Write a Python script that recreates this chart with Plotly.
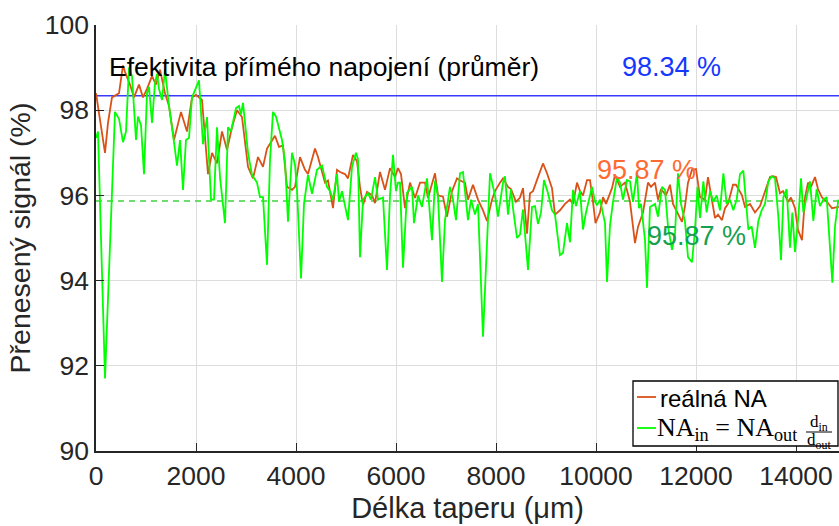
import plotly.graph_objects as go

# Délka taperu (µm) a přenesený signál (%) – reálná NA
real_x = [0, 180, 240, 320, 460, 540, 580, 680, 760, 860, 940, 1020, 1120, 1200, 1280, 1380,
          1460, 1560, 1700, 1820, 1920, 2000, 2120, 2240, 2320, 2420, 2520, 2620, 2720, 2820,
          2920, 3040, 3140, 3240, 3340, 3420, 3580, 3660, 3740, 3820, 3920, 3980, 4080, 4180,
          4240, 4380, 4440, 4580, 4640, 4740, 4820, 4880, 4980, 5040, 5140, 5220, 5280, 5340,
          5420, 5520, 5580, 5680, 5780, 5880, 5980, 6040, 6100, 6180, 6280, 6380, 6480, 6580,
          6640, 6780, 6840, 6940, 7020, 7120, 7220, 7280, 7380, 7440, 7540, 7640, 7740, 7820,
          7920, 7980, 8080, 8140, 8240, 8300, 8400, 8480, 8540, 8620, 8680, 8740, 8840, 8940,
          9020, 9120, 9180, 9280, 9380, 9480, 9540, 9620, 9680, 9740, 9820, 9880, 9940, 9990,
          10080, 10140, 10200, 10320, 10380, 10480, 10580, 10680, 10780, 10840, 10940, 11040,
          11100, 11180, 11240, 11300, 11400, 11480, 11540, 11620, 11720, 11780, 11840, 11920,
          12000, 12080, 12180, 12240, 12300, 12380, 12440, 12520, 12580, 12640, 12740, 12800,
          12920, 12980, 13080, 13180, 13280, 13380, 13480, 13540, 13600, 13680, 13740, 13840,
          13900, 13980, 14040, 14120, 14180, 14240, 14300, 14380, 14440, 14520, 14620, 14720,
          14860]
real_y = [98.4, 97.0, 97.7, 98.3, 98.4, 99.05, 98.9, 98.6, 98.3, 98.6, 98.3, 98.5, 98.8, 98.6,
          98.95, 98.4, 98.1, 97.3, 97.96, 97.5, 98.3, 98.36, 98.24, 96.5, 97.0, 96.75, 97.5,
          97.07, 97.6, 98.0, 97.84, 96.67, 96.4, 96.9, 96.67, 97.1, 97.4, 97.14, 97.17, 96.2,
          96.13, 96.2, 96.9, 96.6, 96.5, 97.1, 96.9, 96.3, 96.35, 95.7, 96.6, 96.55, 96.5, 96.4,
          96.95, 96.8, 96.2, 95.77, 96.08, 96.0, 95.82, 96.55, 96.13, 96.64, 96.43, 96.64, 96.5,
          95.7, 96.3, 95.94, 96.3, 96.3, 95.94, 96.52, 96.0, 95.97, 95.5, 96.1, 96.4, 96.35,
          96.3, 95.9, 96.25, 95.9, 95.65, 95.4, 95.9, 96.1, 96.3, 96.4, 96.2, 96.15, 95.85,
          95.95, 96.17, 95.1, 96.05, 96.1, 96.43, 96.75, 96.52, 96.17, 95.55, 95.65, 95.8, 95.9,
          95.8, 96.3, 96.1, 96.0, 96.36, 96.36, 95.85, 95.35, 95.6, 95.96, 95.8, 96.17, 96.48,
          96.2, 96.3, 95.85, 94.88, 95.26, 95.6, 96.3, 96.2, 96.3, 95.9, 96.15, 96.0, 96.25,
          95.8, 95.6, 95.38, 95.75, 96.3, 96.6, 96.62, 95.96, 95.9, 96.43, 96.0, 95.47, 95.55,
          95.42, 95.7, 95.8, 96.25, 96.25, 96.0, 95.73, 95.8, 95.6, 95.75, 96.08, 96.43, 96.45,
          96.43, 96.05, 96.1, 95.85, 95.95, 95.7, 95.19, 94.95, 95.95, 96.3, 96.2, 96.43, 96.15,
          95.95, 95.85, 95.7, 95.73]

# NA_in = NA_out * d_in / d_out
calc_x = [0, 40, 180, 380, 460, 540, 600, 660, 720, 800, 840, 900, 960, 1020, 1060, 1120, 1180,
          1220, 1260, 1320, 1380, 1460, 1560, 1620, 1680, 1740, 1800, 1860, 1920, 2060, 2140,
          2220, 2300, 2360, 2420, 2480, 2580, 2640, 2700, 2800, 2860, 2900, 2940, 3040, 3120,
          3220, 3280, 3340, 3420, 3480, 3540, 3600, 3720, 3780, 3840, 3920, 3980, 4020, 4100,
          4160, 4240, 4320, 4420, 4520, 4620, 4680, 4740, 4820, 4860, 4920, 5040, 5120, 5200,
          5240, 5280, 5340, 5440, 5500, 5580, 5640, 5740, 5820, 5880, 5940, 6000, 6040, 6080,
          6140, 6220, 6320, 6360, 6440, 6520, 6620, 6720, 6780, 6840, 6920, 6980, 7080, 7140,
          7200, 7280, 7340, 7440, 7500, 7580, 7640, 7740, 7880, 7980, 8040, 8140, 8180, 8240,
          8300, 8340, 8420, 8480, 8540, 8640, 8720, 8780, 8840, 8900, 8960, 9040, 9120, 9180,
          9280, 9340, 9420, 9480, 9540, 9600, 9680, 9740, 9800, 9920, 9980, 10020, 10080, 10180,
          10220, 10280, 10340, 10420, 10480, 10540, 10620, 10680, 10740, 10820, 10860, 10900,
          10980, 11020, 11080, 11180, 11240, 11320, 11380, 11440, 11520, 11580, 11640, 11700,
          11780, 11840, 11920, 11980, 12030, 12080, 12147, 12213, 12280, 12347, 12413, 12480,
          12547, 12613, 12680, 12747, 12813, 12880, 12947, 13013, 13047, 13113, 13180, 13247,
          13313, 13380, 13447, 13513, 13580, 13647, 13700, 13747, 13813, 13880, 13927, 13980,
          14047, 14100, 14147, 14213, 14280, 14347, 14413, 14480, 14547, 14613, 14680, 14727,
          14780, 14847]
calc_y = [97.35, 97.5, 91.7, 97.96, 97.8, 97.25, 97.5, 99.0, 98.8, 97.3, 97.85, 97.65, 96.5,
          98.4, 98.55, 97.7, 98.64, 98.85, 98.5, 98.24, 98.95, 98.1, 97.25, 96.7, 97.3, 96.13,
          97.3, 97.35, 98.3, 98.7, 97.2, 97.84, 95.9, 95.9, 97.6, 96.43, 95.35, 97.6, 97.5,
          98.05, 98.1, 97.9, 98.17, 97.0, 96.48, 96.3, 95.96, 95.96, 94.37, 96.83, 97.96, 97.85,
          97.3, 96.8, 95.38, 97.0, 96.72, 96.13, 94.05, 95.8, 96.48, 96.04, 96.6, 96.7, 96.2,
          96.1, 95.9, 96.5, 95.85, 96.1, 95.42, 96.67, 97.0, 96.85, 94.55, 95.9, 96.05, 95.9,
          96.43, 95.9, 95.95, 94.25, 96.0, 96.95, 96.1, 96.3, 96.3, 94.3, 96.06, 96.2, 95.35,
          96.0, 95.73, 96.4, 94.95, 96.35, 95.97, 93.97, 95.42, 96.2, 95.9, 95.42, 96.52, 96.55,
          95.42, 95.9, 95.55, 95.8, 92.68, 96.52, 96.0, 95.5, 96.3, 96.45, 95.55, 96.15, 95.7,
          95.0, 95.08, 95.67, 94.25, 95.73, 95.75, 95.33, 95.6, 96.36, 96.05, 95.65, 95.55, 94.6,
          94.65, 95.35, 94.9, 96.13, 95.75, 96.1, 95.2, 95.6, 96.2, 95.85, 95.77, 95.9, 95.35,
          93.97, 95.3, 95.85, 96.43, 96.3, 95.9, 96.36, 96.33, 95.85, 96.52, 95.7, 95.8, 94.95,
          93.83, 95.73, 95.8, 95.5, 96.2, 96.13, 95.27, 94.72, 95.1, 96.52, 95.8, 95.38, 94.55,
          94.43, 95.2, 96.2, 95.47, 96.33, 95.6, 96.1, 95.85, 96.0, 95.65, 96.52, 95.8, 95.9,
          95.65, 95.9, 96.5, 96.58, 95.67, 95.2, 95.27, 94.77, 95.4, 95.65, 95.8, 96.33, 96.45,
          96.4, 95.5, 94.48, 95.96, 96.15, 94.77, 95.6, 94.67, 95.5, 96.4, 95.6, 95.96, 96.33,
          95.4, 96.15, 95.75, 95.9, 95.96, 94.72, 93.95, 95.27, 95.9]

direct_mean = 98.34   # přímé napojení
real_mean = 95.87     # reálná NA
calc_mean = 95.87     # vypočtená NA

x_ticks = [0, 2000, 4000, 6000, 8000, 10000, 12000, 14000]
y_ticks = [90, 92, 94, 96, 98, 100]
x_range = [0, 14860]
y_range = [90, 100]

ORANGE = "#D95319"
GREEN = "#00FF00"
BLUE = "#3A3AFF"
AXIS = "#262626"
FONT = "Liberation Sans, Arial, sans-serif"
SERIF = "Liberation Serif, Times New Roman, serif"

fig = go.Figure()

# vodorovné čáry průměrů
fig.add_trace(go.Scatter(x=x_range, y=[direct_mean] * 2, mode="lines",
                         line=dict(color=BLUE, width=1.6), showlegend=False,
                         hoverinfo="skip"))
fig.add_trace(go.Scatter(x=x_range, y=[calc_mean] * 2, mode="lines",
                         line=dict(color="#3fd23f", width=1.6, dash="6px,5px"),
                         showlegend=False, hoverinfo="skip"))

fig.add_trace(go.Scatter(x=real_x, y=real_y, mode="lines", name="reálná NA",
                         line=dict(color=ORANGE, width=1.8), showlegend=False))
fig.add_trace(go.Scatter(x=calc_x, y=calc_y, mode="lines", name="NA_in = NA_out d_in/d_out",
                         line=dict(color=GREEN, width=1.8), showlegend=False))

annotations = [
    dict(x=220, y=99.01, xref="x", yref="y", text="Efektivita přímého napojení (průměr)",
         showarrow=False, xanchor="left", yanchor="middle",
         font=dict(size=26.5, color="#000000", family=FONT)),
    dict(x=10480, y=99.01, xref="x", yref="y", text=f"{direct_mean:.2f} %",
         showarrow=False, xanchor="left", yanchor="middle",
         font=dict(size=27, color="#1538FF", family=FONT)),
    dict(x=9980, y=96.6, xref="x", yref="y", text=f"{real_mean:.2f} %",
         showarrow=False, xanchor="left", yanchor="middle",
         font=dict(size=27, color="#FF6A33", family=FONT)),
    dict(x=10980, y=95.05, xref="x", yref="y", text=f"{calc_mean:.2f} %",
         showarrow=False, xanchor="left", yanchor="middle",
         font=dict(size=27, color="#17A050", family=FONT)),
]

# legenda
W, H = 743.0, 426.0
def px(xp):
    return (xp - 96) / W
def py(yp):
    return (451 - yp) / H

shapes = [
    dict(type="rect", xref="paper", yref="paper", x0=px(633), x1=px(838), y0=py(446),
         y1=py(381), line=dict(color="#000000", width=1.3), fillcolor="#FFFFFF",
         layer="above"),
    dict(type="line", xref="paper", yref="paper", x0=px(637), x1=px(656), y0=py(397),
         y1=py(397), line=dict(color=ORANGE, width=1.8), layer="above"),
    dict(type="line", xref="paper", yref="paper", x0=px(637), x1=px(656), y0=py(428),
         y1=py(428), line=dict(color=GREEN, width=1.8), layer="above"),
    dict(type="line", xref="paper", yref="paper", x0=px(806), x1=px(832), y0=py(432),
         y1=py(432), line=dict(color="#000000", width=1), layer="above"),
]
annotations += [
    dict(x=px(658), y=py(398), xref="paper", yref="paper", text="reálná NA",
         showarrow=False, xanchor="left", yanchor="middle",
         font=dict(size=24, color="#000000", family=FONT)),
    dict(x=px(655), y=py(429), xref="paper", yref="paper",
         text="NA<sub>in</sub> = NA<sub>out</sub>",
         showarrow=False, xanchor="left", yanchor="middle",
         font=dict(size=26, color="#000000", family=SERIF)),
    dict(x=px(819), y=py(423), xref="paper", yref="paper", text="d<sub>in</sub>",
         showarrow=False, xanchor="center", yanchor="middle",
         font=dict(size=17, color="#000000", family=SERIF)),
    dict(x=px(819), y=py(441), xref="paper", yref="paper", text="d<sub>out</sub>",
         showarrow=False, xanchor="center", yanchor="middle",
         font=dict(size=17, color="#000000", family=SERIF)),
]

fig.update_layout(
    width=839, height=526,
    margin=dict(l=96, r=0, t=25, b=75),
    paper_bgcolor="#FFFFFF", plot_bgcolor="#FFFFFF",
    font=dict(family=FONT, color=AXIS, size=26),
    showlegend=False,
    shapes=shapes,
    annotations=annotations,
    xaxis=dict(range=x_range, tickvals=x_ticks, ticktext=[str(t) for t in x_ticks],
               ticks="inside", ticklen=8,
               tickwidth=1.3, tickcolor=AXIS, showline=True, linecolor=AXIS,
               linewidth=1.5, showgrid=True, gridcolor="#DCDCDC", gridwidth=1,
               zeroline=False, tickfont=dict(size=26.5, color=AXIS),
               title=dict(text="Délka taperu (μm)", font=dict(size=29, color=AXIS),
                          standoff=8)),
    yaxis=dict(range=y_range, tickvals=y_ticks, ticktext=[str(t) for t in y_ticks],
               ticks="inside", ticklen=8,
               tickwidth=1.3, tickcolor=AXIS, showline=True, linecolor=AXIS,
               linewidth=1.5, showgrid=True, gridcolor="#DCDCDC", gridwidth=1,
               zeroline=False, tickfont=dict(size=26.5, color=AXIS),
               title=dict(text="Přenesený signál (%)", font=dict(size=28.5, color=AXIS),
                          standoff=6)),
)

fig.write_html("out.html")
